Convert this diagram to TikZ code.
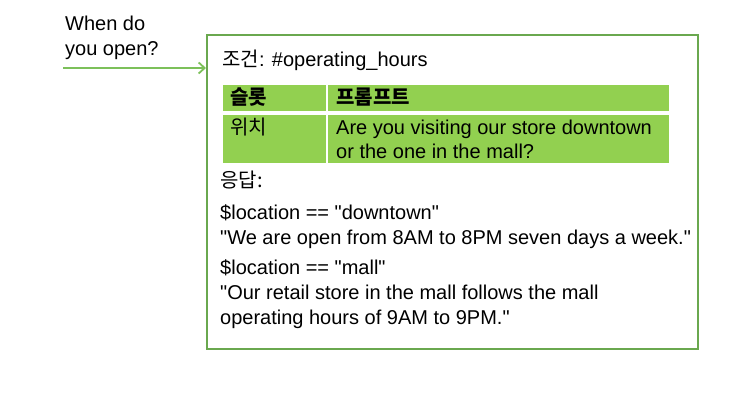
\documentclass[tikz,border=0pt]{standalone}
\usepackage{fontspec}
\setmainfont{Liberation Sans}[Ligatures=TeXOff]
\newfontfamily\kofont{Noto Sans CJK KR}
\usepackage{xcolor}
\usetikzlibrary{arrows.meta}
\definecolor{boxgreen}{HTML}{6AA84F}
\definecolor{cellgreen}{HTML}{92D050}
\definecolor{arrowgreen}{HTML}{7CC05A}
\tikzset{
  txt/.style={anchor=base west, inner sep=0pt, font=\fontsize{20}{24}\selectfont},
  cell/.style={fill=cellgreen, draw=white, line width=1.5pt}
}
\begin{document}
\begin{tikzpicture}[x=1pt, y=-1pt]
\useasboundingbox (0,0) rectangle (750,403);
\draw[boxgreen, line width=2pt] (207,35) rectangle (698,349);
\node[txt] (ask1) at (65,31) {When do};
\node[txt] (ask2) at (65,56) {you open?};
\coordinate (arrowstart) at (63,68);
\coordinate (boxin) at (206,68);
\draw[arrowgreen, line width=1.8pt, -{Straight Barb[length=6pt, width=11pt]}] (arrowstart) -- (boxin);
\node[txt] (cond) at (222,67) {{\kofont 조건}: \#operating\_hours};
\filldraw[cell] (222,84) rectangle (327,112);
\filldraw[cell] (327,84) rectangle (670,112);
\filldraw[cell] (222,114) rectangle (327,164);
\filldraw[cell] (327,114) rectangle (670,164);
\node[txt] (slothead) at (230,105) {\kofont\bfseries 슬롯};
\node[txt] (prompthead) at (336,105) {\kofont\bfseries 프롬프트};
\node[txt] (slot) at (230,135) {\kofont 위치};
\node[txt] (prompt1) at (336,135) {Are you visiting our store downtown};
\node[txt] (prompt2) at (336,159) {or the one in the mall?};
\node[txt] (resp) at (220,188) {\kofont 응답:};
\node[txt] (cond1) at (220,220) {\$location == "downtown"};
\node[txt] (resp1) at (220,245) {"We are open from 8AM to 8PM seven days a week."};
\node[txt] (cond2) at (220,275) {\$location == "mall"};
\node[txt] (resp2a) at (220,300) {"Our retail store in the mall follows the mall};
\node[txt] (resp2b) at (220,325) {operating hours of 9AM to 9PM."};
\end{tikzpicture}
\end{document}
